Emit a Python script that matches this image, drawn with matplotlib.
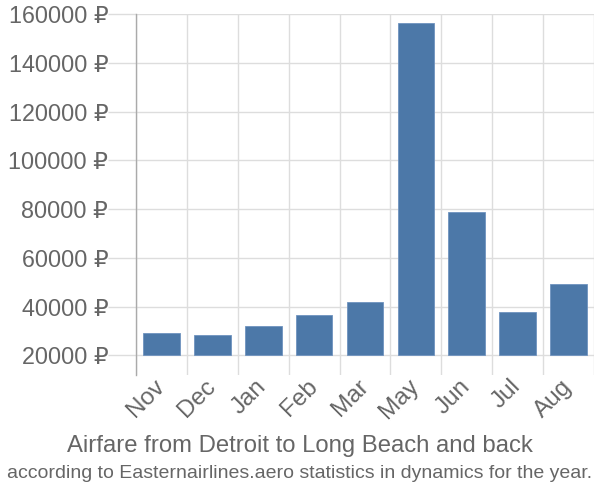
import matplotlib
matplotlib.use("Agg")
import matplotlib.pyplot as plt
from matplotlib.ticker import FuncFormatter

months = ["Nov", "Dec", "Jan", "Feb", "Mar", "May", "Jun", "Jul", "Aug"]
prices = [29300, 28200, 32000, 36700, 41800, 156200, 78800, 37700, 49200]
y_ticks = [20000, 40000, 60000, 80000, 100000, 120000, 140000, 160000]

BAR = "#4c78a8"
GRID = "#dddddd"
TEXT = "#666666"
FONT = ["Liberation Sans", "DejaVu Sans"]
plt.rcParams["font.family"] = FONT

fig = plt.figure(figsize=(6, 5), dpi=100)
ax = fig.add_axes([0.2267, 0.25, 0.7633, 0.722])

x = list(range(len(months)))
base = y_ticks[0]
ax.bar(x, [p - base for p in prices], bottom=base, width=0.72, color=BAR,
       edgecolor="#6f93bf", linewidth=0.6, zorder=3)

ax.set_xlim(-0.5, len(months) - 0.5)
ax.set_ylim(12000, 160000)
ax.set_yticks(y_ticks)
ax.yaxis.set_major_formatter(FuncFormatter(lambda v, _: f"{int(v)} \u20bd"))
ax.set_xticks(x)
ax.set_xticklabels(months, rotation=45, ha="right", va="center", rotation_mode="anchor")

# vertical grid at category boundaries
ax.set_xticks([i - 0.5 for i in range(len(months) + 1)], minor=True)
ax.grid(True, which="minor", axis="x", color=GRID, lw=1, zorder=0)
ax.grid(True, which="major", axis="y", color=GRID, lw=1, zorder=0)
ax.tick_params(axis="x", which="major", length=0, labelsize=17.5, labelcolor=TEXT, pad=6)
ax.tick_params(axis="x", which="minor", length=0)
ax.tick_params(axis="y", length=20, color=GRID, width=1, labelsize=16.8,
               labelcolor=TEXT, pad=0)

for s in ["top", "right", "bottom"]:
    ax.spines[s].set_visible(False)
ax.spines["left"].set_color("#aaaaaa")
ax.spines["left"].set_linewidth(1)

fig.text(0.5, 0.108, "Airfare from Detroit to Long Beach and back", ha="center",
         va="center", fontsize=17.2, color=TEXT)
fig.text(0.5, 0.052, "according to Easternairlines.aero statistics in dynamics for the year.",
         ha="center", va="center", fontsize=14, color=TEXT)

fig.savefig("out.png", dpi=100)
